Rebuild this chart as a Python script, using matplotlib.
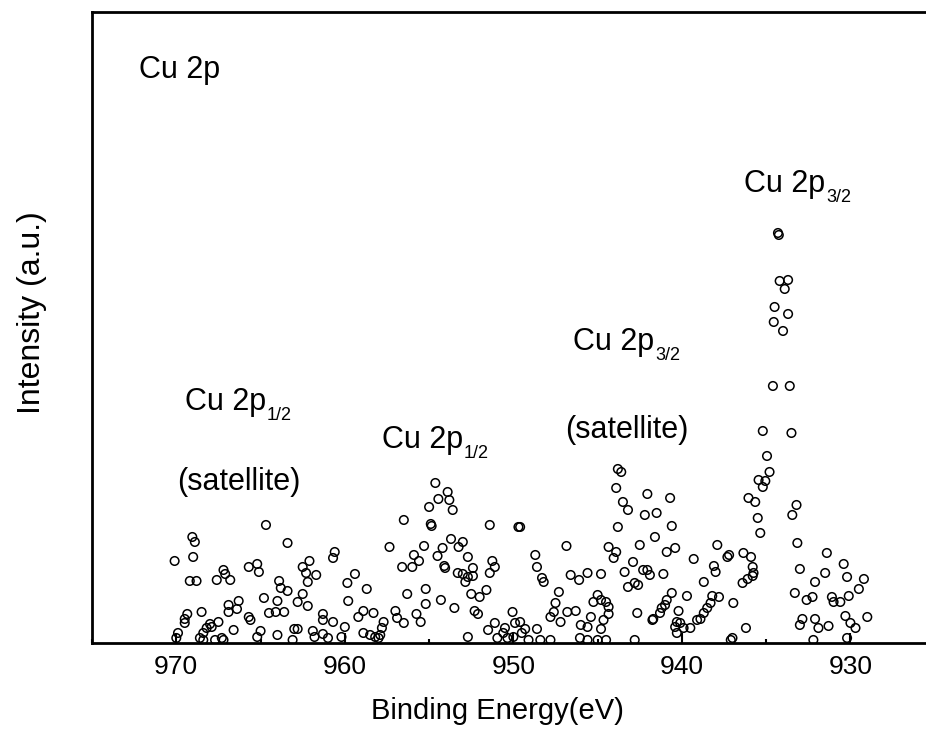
import matplotlib
matplotlib.use('Agg')
import matplotlib.pyplot as plt
import numpy as np
from matplotlib.ticker import MultipleLocator

plt.rcParams['font.family'] = ['Liberation Sans', 'DejaVu Sans']

# binding energy (eV) and intensity (a.u.)
energy = [
    # 960.5 - 970
    964.68, 969.05, 968.9, 963.4, 970.1, 969.0, 965.7, 965.2, 965.1,
    962.1, 962.5, 962.3, 961.7, 962.2, 960.6, 960.7, 967.2, 967.1, 967.6,
    966.8, 969.2, 968.8, 963.9, 963.8, 963.4, 962.5, 962.8, 962.2, 964.8,
    964.0, 964.5, 964.1, 963.6, 966.3, 966.9, 966.4, 966.9, 968.5, 969.35,
    969.5, 969.5, 965.7, 965.6, 961.3, 961.3, 960.7, 968.0, 967.5, 968.2,
    967.9, 968.4, 966.6, 967.3, 967.7, 969.9, 970.0, 965.0, 965.2, 964.0,
    963.0, 962.8, 961.9, 961.8, 963.1, 961.3, 961.0, 968.6, 968.4, 967.2,
    # 949.7 - 960.2
    954.63, 953.9, 953.8, 954.45, 955.0, 953.6, 956.5, 954.9, 954.85, 951.4,
    949.7, 957.35, 955.3, 953.7, 953.0, 953.25, 954.2, 954.5, 952.7, 955.9,
    956.0, 955.6, 956.6, 954.1, 954.05, 951.25, 951.1, 951.4, 953.3, 953.0,
    952.85, 952.4, 952.4, 952.7, 959.4, 959.85, 958.7, 955.2, 956.3, 951.6,
    952.0, 952.5, 959.8, 954.3, 955.2, 953.5, 952.3, 952.1, 950.05, 958.9,
    959.2, 958.3, 957.0, 956.9, 956.5, 955.75, 955.5, 957.7, 957.8, 960.0,
    960.2, 958.9, 958.5, 958.2, 957.9, 958.0, 952.7, 951.1, 951.5, 950.95,
    950.6, 950.5, 949.9, 950.0, 950.35,
    # 939 - 949.6
    943.8, 943.6, 943.9, 942.05, 940.7, 943.5, 943.2, 942.2, 941.5, 949.6,
    943.8, 940.6, 941.6, 942.5, 946.85, 944.35, 943.9, 944.05, 940.9, 940.4,
    939.3, 948.7, 948.6, 948.3, 948.2, 942.9, 946.6, 946.1, 945.6, 944.8,
    943.4, 942.3, 941.9, 941.1, 942.05, 943.2, 942.8, 942.6, 947.3, 947.5,
    947.6, 947.8, 947.2, 946.8, 946.3, 945.0, 944.8, 944.5, 944.35, 944.35,
    944.65, 945.25, 945.4, 946.0, 945.6, 944.8, 940.6, 940.9, 941.0, 941.2,
    941.3, 941.7, 941.75, 939.7, 942.65, 940.2, 940.3, 940.1, 940.4, 940.3,
    939.9, 939.5, 939.1, 946.05, 945.6, 945.0, 944.5, 942.8, 949.6, 949.3,
    949.5, 949.1, 948.4, 947.8, 948.6,
    # 929 - 938.9
    935.2, 933.5, 934.95, 934.8, 935.45, 935.05, 935.2, 936.05, 935.65, 933.2,
    933.45, 935.5, 935.35, 933.15, 937.9, 936.35, 935.9, 935.8, 935.75, 937.3,
    937.2, 938.1, 938.0, 931.4, 930.4, 933.0, 931.5, 930.2, 929.2, 932.1,
    936.4, 936.1, 935.8, 938.7, 933.3, 932.6, 932.25, 929.5, 930.1, 930.6,
    931.1, 931.0, 938.2, 937.8, 938.3, 938.5, 938.7, 938.9, 936.95, 930.3,
    930.0, 929.7, 929.0, 932.85, 933.0, 932.1, 931.9, 931.3, 936.2, 932.2,
    930.2, 937.0, 937.1,
    # main peak
    934.3, 934.25, 934.2, 933.7, 933.9, 934.5, 933.7, 934.55, 934.0, 934.6,
    933.6,
]
intensity = [
    118, 106, 101, 100, 82, 86, 76, 79, 71,
    82, 76, 70, 68, 61, 91, 85, 73, 69, 63,
    63, 62, 62, 62, 55, 52, 49, 41, 37, 45,
    42, 30, 31, 31, 42, 38, 34, 31, 31, 29,
    24, 20, 26, 23, 29, 23, 21, 19, 21, 15,
    16, 10, 13, 5, 3, 10, 5, 12, 6, 8,
    14, 14, 12, 6, 3, 9, 5, 5, 3, 3,
    160, 151, 143, 144, 136, 133, 123, 119, 117, 118,
    116, 96, 97, 104, 101, 96, 95, 87, 86, 88,
    76, 82, 76, 77, 75, 82, 76, 70, 70, 69,
    61, 75, 67, 66, 69, 60, 54, 54, 49, 53,
    46, 49, 42, 43, 39, 35, 32, 29, 31, 32,
    26, 30, 32, 25, 20, 29, 21, 21, 15, 16,
    6, 10, 8, 6, 8, 5, 6, 20, 13, 5,
    10, 15, 20, 6, 5,
    174, 171, 155, 149, 145, 141, 133, 128, 130, 116,
    116, 117, 106, 98, 97, 96, 91, 85, 91, 95,
    84, 88, 76, 65, 61, 81, 68, 63, 70, 69,
    71, 73, 68, 69, 73, 56, 60, 58, 51, 40,
    31, 26, 21, 31, 32, 48, 43, 41, 36, 29,
    23, 41, 26, 18, 16, 14, 50, 43, 38, 35,
    30, 24, 23, 47, 30, 32, 21, 20, 16, 10,
    15, 15, 23, 5, 3, 3, 3, 3, 21, 14,
    10, 3, 3, 3, 14,
    212, 210, 187, 171, 163, 162, 156, 145, 141, 138,
    128, 125, 110, 100, 98, 90, 86, 76, 70, 86,
    88, 77, 71, 90, 79, 74, 70, 66, 64, 61,
    60, 64, 67, 61, 50, 43, 46, 54, 47, 41,
    46, 41, 47, 46, 40, 35, 30, 24, 40, 27,
    20, 15, 26, 24, 18, 24, 15, 17, 15, 3,
    5, 5, 3,
    410, 408, 362, 363, 354, 336, 329, 321, 312, 257,
    257,
]

x_ticks = [970, 960, 950, 940, 930]

fig = plt.figure(figsize=(9.26, 7.35), dpi=100)
ax = fig.add_axes([0.0994, 0.1252, 0.91, 0.8585])

ax.scatter(energy, intensity, s=38, facecolors='none', edgecolors='black',
           linewidths=1.1, zorder=3)

ax.set_xlim(975, 925)
ax.set_ylim(0, 631)
ax.set_xticks(x_ticks)
ax.xaxis.set_minor_locator(MultipleLocator(5))
ax.set_yticks([])
ax.tick_params(axis='x', which='major', direction='in', length=7, width=1.5,
               labelsize=19, pad=9)
ax.tick_params(axis='x', which='minor', direction='in', length=3.2, width=1.5)
for sp in ax.spines.values():
    sp.set_linewidth(2)

ax.set_xlabel('Binding Energy(eV)', fontsize=21)
ax.xaxis.set_label_coords(0.481, -0.085)
ax.set_ylabel('Intensity (a.u.)', fontsize=23)
ax.yaxis.set_label_coords(-0.054, 0.523)

fs = 22
fig.canvas.draw()
renderer = fig.canvas.get_renderer()


def peak_label(x, y, main, sub=None):
    t = ax.text(x, y, main, fontsize=fs, va='baseline')
    if sub:
        w = t.get_window_extent(renderer).width * 72 / fig.dpi
        ax.annotate(sub, xy=(x, y), xycoords='data', xytext=(w + 0.5, -7),
                    textcoords='offset points', fontsize=13, va='baseline')


peak_label(972.2, 565, 'Cu 2p')
peak_label(969.5, 233, 'Cu 2p', '1/2')
peak_label(969.96, 153, '(satellite)')
peak_label(957.79, 195, 'Cu 2p', '1/2')
peak_label(946.45, 293, 'Cu 2p', '3/2')
peak_label(946.93, 205, '(satellite)')
peak_label(936.3, 451, 'Cu 2p', '3/2')

fig.savefig('out.png', dpi=100)
